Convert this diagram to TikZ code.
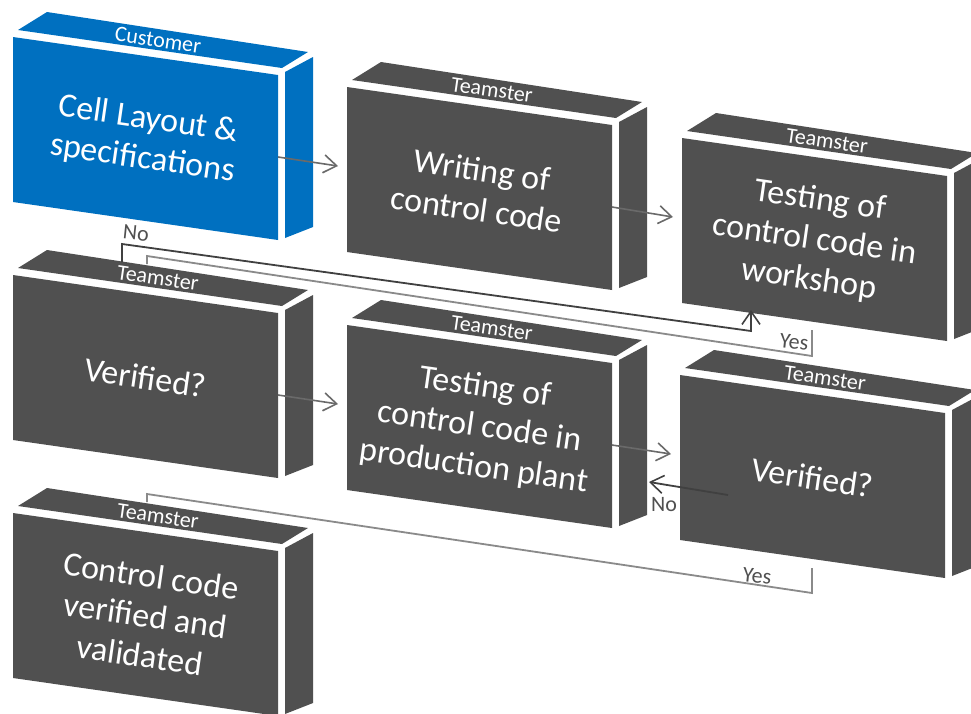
\documentclass[tikz,border=0pt]{standalone}
\usepackage{fontspec}
\setmainfont{Carlito}
\usetikzlibrary{arrows.meta,calc}

\definecolor{custblue}{HTML}{0070C0}
\definecolor{slabgray}{HTML}{505050}
\definecolor{flowgray}{HTML}{6A6A6A}
\definecolor{nogray}{HTML}{404040}
\definecolor{yesgray}{HTML}{8A8A8A}
\definecolor{labelgray}{HTML}{505050}

\tikzset{
  boxtext/.style={text=white, align=center, rotate=-8.2, inner sep=0pt,
    font=\fontsize{34}{40}\selectfont},
  rolelabel/.style={text=white, rotate=-8.2, inner sep=0pt,
    font=\fontsize{22}{26}\selectfont},
  flowtip/.style={-{Straight Barb[length=13pt,width=18pt,line width=1.6pt]}},
  flow/.style={draw=flowgray, line width=1.6pt, flowtip},
  noflow/.style={draw=nogray, line width=1.8pt, line join=miter},
  yesflow/.style={draw=yesgray, line width=1.8pt, line join=miter},
  answer/.style={text=labelgray, inner sep=0pt, rotate=-6,
    font=\fontsize{22}{26}\selectfont},
}

% A slab: front face, top strip carrying the role, and the right side face.
% #1 name, #2/#3 top-left corner of the front face, #4 colour, #5 role, #6 text
\newcommand\slabbox[6]{%
  \begin{scope}[shift={(#2,#3)}]
    \fill[#4] (0,0) -- (265,38) -- (265,203) -- (0,165) -- cycle;
    \fill[#4] (5,-7) -- (269,31) -- (295,15) -- (34,-25) -- cycle;
    \fill[#4] (272,35) -- (300,20) -- (300,190) -- (272,201) -- cycle;
    \node[rolelabel] (#1-role) at (145,3) {#5};
    \node[boxtext] (#1) at (132.5,102.5) {#6};
    \coordinate (#1-out) at (265,120);
    \coordinate (#1-in) at (-9,79);
  \end{scope}}

\begin{document}
\begin{tikzpicture}[x=1pt, y=-1pt]
  \useasboundingbox (0,0) rectangle (971,713);
  \clip (0,0) rectangle (971,713);

  % process slabs
  \slabbox{spec}{13}{37}{custblue}{Customer}{Cell Layout \&\\specifications}
  \slabbox{write}{347}{87}{slabgray}{Teamster}{Writing of\\control code}
  \slabbox{shop}{682}{138}{slabgray}{Teamster}{Testing of\\control code in\\workshop}
  \slabbox{ver1}{13}{275}{slabgray}{Teamster}{Verified?}
  \slabbox{plant}{347}{325}{slabgray}{Teamster}{Testing of\\control code in\\production plant}
  \slabbox{ver2}{680}{375}{slabgray}{Teamster}{Verified?}
  \slabbox{done}{13}{513}{slabgray}{Teamster}{Control code\\verified and\\validated}

  % main flow
  \draw[flow] (spec-out) -- (write-in);
  \draw[flow] (write-out) -- (shop-in);
  \draw[flow] (ver1-out) -- (plant-in);
  \draw[flow] (plant-out) -- (ver2-in);

  % second check fails: back to the plant test
  \coordinate (ver2-back) at (728,495);
  \coordinate (plant-back) at (649,482);
  \draw[noflow, flowtip] (ver2-back) -- (plant-back);
  \node[answer, rotate=6] (no2) at (664,505) {No};

  % first check fails: back to the workshop test
  \coordinate (ver1-no) at (122,262);
  \coordinate (no-a) at (122,244);
  \coordinate (no-b) at (751,331);
  \coordinate (shop-no) at (751,310);
  \draw[noflow, flowtip] (ver1-no) -- (no-a) -- (no-b) -- (shop-no);
  \node[answer] (no1) at (136,233) {No};

  % first check passes
  \coordinate (ver1-yes) at (147,264);
  \coordinate (yes1-a) at (147,256);
  \coordinate (yes1-b) at (812,356);
  \coordinate (yes1-c) at (812,330);
  \draw[yesflow] (ver1-yes) -- (yes1-a) -- (yes1-b) -- (yes1-c);
  \node[answer] (yes1) at (794,342) {Yes};

  % second check passes
  \coordinate (done-yes) at (147,502);
  \coordinate (yes2-a) at (147,494);
  \coordinate (yes2-b) at (812,593);
  \coordinate (yes2-c) at (812,568);
  \draw[yesflow] (done-yes) -- (yes2-a) -- (yes2-b) -- (yes2-c);
  \node[answer] (yes2) at (757,576) {Yes};
\end{tikzpicture}
\end{document}
